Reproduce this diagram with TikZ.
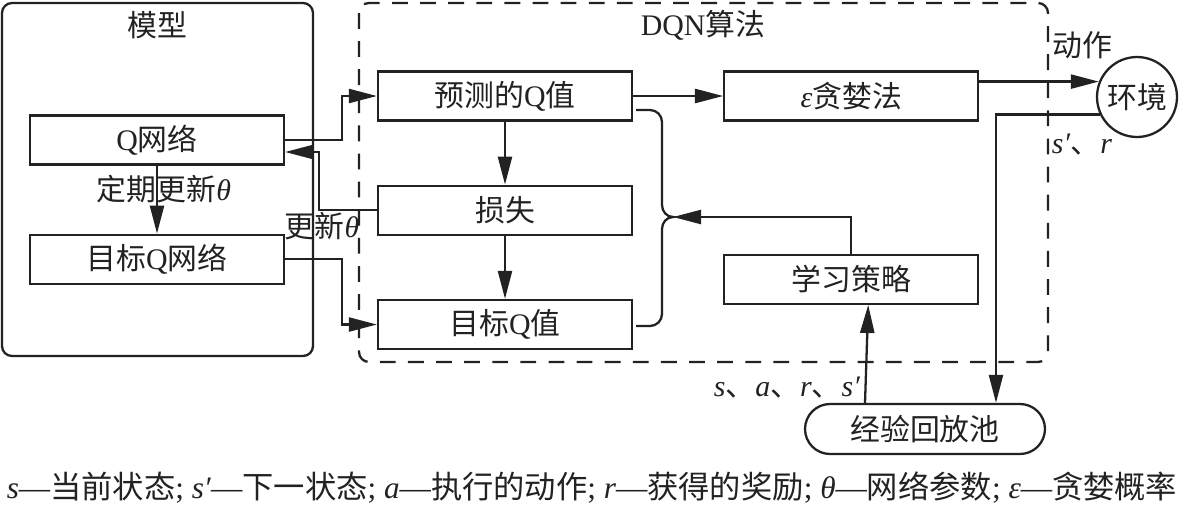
\documentclass[tikz,border=0pt]{standalone}
\usepackage{fontspec}
\setmainfont{Liberation Serif}
\newfontfamily\cjk{Noto Sans CJK SC}
\usetikzlibrary{positioning,arrows.meta}
\newcommand\zh[1]{{\cjk #1}}
\definecolor{ink}{HTML}{222222}

\begin{document}
\begin{tikzpicture}[x=0.02cm, y=-0.02cm, align=center, node distance=1.26cm, color=ink,
  font=\fontsize{17}{20}\selectfont, line width=1.3pt,
  box/.style = {draw, rectangle, minimum width=5.08cm, minimum height=0.98cm, inner sep=0pt},
  frame/.style = {draw, rounded corners=0.2cm},
  arr/.style = {-{Triangle[length=16pt, width=8pt]}}]
	\useasboundingbox (0,0) rectangle (1184,508);
	% frames
	\draw[frame] (2,3) rectangle (313,356);
	\draw[frame, dash pattern=on 9pt off 7pt] (359,3) rectangle (1048,362);
	\node (mtitle) at (157,25) {\zh{模型}};
	\node (dtitle) at (703,25) {DQN\zh{算法}};
	% model
	\node[box] (qnet) at (157,140) {Q\zh{网络}};
	\node[box] (tqnet) [below=1.36cm of qnet] {\zh{目标}Q\zh{网络}};
	% dqn
	\node[box] (pred) at (505,96) {\zh{预测的}Q\zh{值}};
	\node[box] (loss) [below=of pred] {\zh{损失}};
	\node[box] (tq) [below=of loss] {\zh{目标}Q\zh{值}};
	\node[box] (eps) [right=1.8cm of pred] {\textit{ε}\zh{贪婪法}};
	\node[box] (learn) [below=2.64cm of eps] {\zh{学习策略}};
	\node[draw, circle, minimum size=1.6cm, inner sep=0pt] (env) at (1137,97) {\zh{环境}};
	\node[draw, rounded corners=0.5cm, minimum width=4.8cm, minimum height=1cm] (pool) at (925,429) {\zh{经验回放池}};
	\coordinate (upd) at (319,152);
	\coordinate (tip) at (673,217);
	\coordinate (bt) at (636,110);
	\coordinate (bb) at (636,326);
	% connectors
	\draw[arr] (qnet) -- node[pos=0.34, xshift=0.14cm] {\zh{定期更新}\textit{θ}} (tqnet);
	\draw[arr] (qnet.east) -- ++(57,0) |- (pred.west);
	\draw[arr] (loss.west) -| (upd) -- (upd -| qnet.east);
	\draw[arr] (tqnet.east) -- ++(57,0) |- (tq.west);
	\draw[arr] (pred) -- (loss);
	\draw[arr] (loss) -- (tq);
	\draw[arr] (pred) -- (eps);
	\draw[arr] (eps.east |- env.158) -- (env.158);
	\draw[arr] (env.205) -| ([xshift=1.42cm]pool.north);
	\draw[arr] ([xshift=-1.2cm]pool.north) -- ([xshift=0.34cm]learn.south);
	\draw[arr] (learn.north) |- (tip);
	\draw (bt) -- (650,110) to[out=0, in=90] (662,122) -- (662,205) to[out=-90, in=180] (tip)
		to[out=180, in=90] (662,229) -- (662,314) to[out=-90, in=0] (650,326) -- (bb);
	% labels
	\node (updlbl) at (322,226) {\zh{更新}\textit{θ}};
	\node (act) at (1082,45) {\zh{动作}};
	\node (sr) at (1082,145) {\textit{s′}\zh{、}\textit{r}};
	\node (sars) at (787,388) {\textit{s}\zh{、}\textit{a}\zh{、}\textit{r}\zh{、}\textit{s′}};
	\node[font=\fontsize{17.8}{20}\selectfont] (note) at (592,488) {\textit{s}—\zh{当前状态}; \textit{s′}—\zh{下一状态}; \textit{a}—\zh{执行的动作}; \textit{r}—\zh{获得的奖励}; \textit{θ}—\zh{网络参数}; \textit{ε}—\zh{贪婪概率}};
\end{tikzpicture}
\end{document}
